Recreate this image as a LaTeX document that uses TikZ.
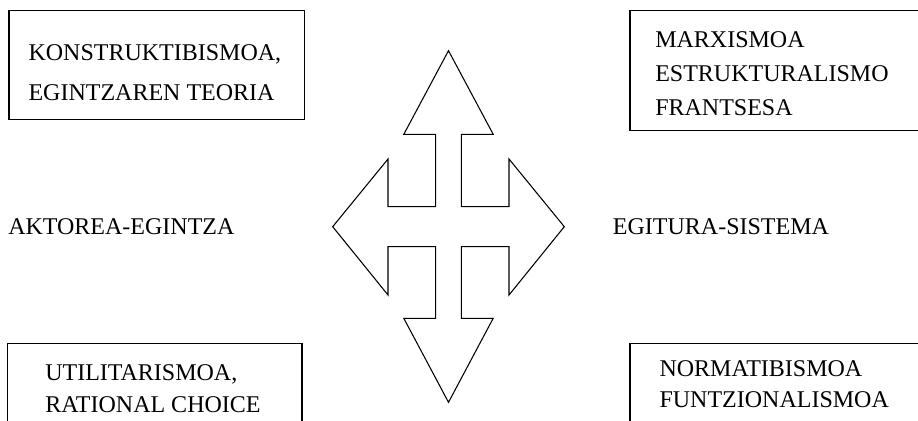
\documentclass[tikz,border=0pt]{standalone}
\usepackage{fontspec}
\setmainfont{Liberation Serif}

\begin{document}
\begin{tikzpicture}[x=0.75pt,y=-0.75pt,
			box/.style={draw, line width=0.9pt, anchor=north west, inner sep=0pt},
			txt/.style={anchor=base west, align=left, inner sep=0pt, font=\fontsize{18}{30}\selectfont},
			cross/.style={draw, line width=0.8pt, line join=miter}]
			\useasboundingbox (0,0) rectangle (918,421);
			\clip (0,0) rectangle (918,421);
			
			% boxes in the four corners
			\node[box, minimum width=221.5pt, minimum height=81.75pt] (konst) at (8.3,10) {};
			\node[box, minimum width=230pt, minimum height=90pt] (marx) at (629.3,10) {};
			\node[box, minimum width=221pt, minimum height=70pt] (util) at (6.7,342.7) {};
			\node[box, minimum width=230pt, minimum height=70pt] (norm) at (629.3,342.7) {};
			
			% texts, placed by the baseline of their last line
			\node[txt] (konstText) at (28.3,100) {KONSTRUKTIBISMOA,\\EGINTZAREN TEORIA};
			\node[txt, font=\fontsize{18}{25.5}\selectfont] (marxText) at (655,115) {MARXISMOA\\ESTRUKTURALISMO\\FRANTSESA};
			\node[txt, font=\fontsize{18}{24}\selectfont] (utilText) at (45,412.7) {UTILITARISMOA,\\RATIONAL CHOICE};
			\node[txt, font=\fontsize{18}{23.25}\selectfont] (normText) at (659.3,407.3) {NORMATIBISMOA\\FUNTZIONALISMOA};
			
			\node[txt] (aktorea) at (8,234) {AKTOREA-EGINTZA};
			\node[txt] (egitura) at (612.7,234) {EGITURA-SISTEMA};
			
			% the four-way arrow
			\draw[cross] (448.5,50.7) -- (493.2,134.3) -- (461.3,134.3) -- (461.3,206.7)
				-- (509,206.7) -- (509,159) -- (564.3,226.7) -- (509,295) -- (509,246.7)
				-- (461.3,246.7) -- (461.3,318.3) -- (493.2,318.3) -- (448.5,402.3)
				-- (403.8,318.3) -- (435.7,318.3) -- (435.7,246.7) -- (388,246.7)
				-- (388,295) -- (332.7,226.7) -- (388,159) -- (388,206.7)
				-- (435.7,206.7) -- (435.7,134.3) -- (403.8,134.3) -- cycle;
		\end{tikzpicture}
\end{document}
